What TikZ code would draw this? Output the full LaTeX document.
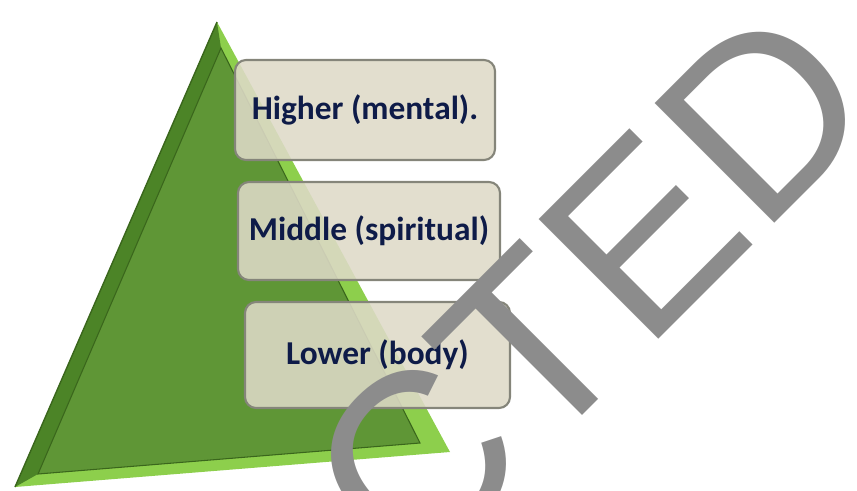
\documentclass[tikz,border=0pt]{standalone}
\usepackage{fontspec}
\setmainfont{Carlito}
\newfontfamily\wmfont{Liberation Sans}
\definecolor{grnlight}{HTML}{8DCF4C}
\definecolor{grndark}{HTML}{4C8427}
\definecolor{grnmain}{HTML}{5F9636}
\definecolor{grnedge}{HTML}{3A661C}
\definecolor{boxfill}{HTML}{DEDAC7}
\definecolor{boxedge}{HTML}{85857A}
\definecolor{navy}{HTML}{0E1B48}
\definecolor{wmgray}{HTML}{8C8C8C}
\begin{document}
\begin{tikzpicture}[
	level/.style={draw=boxedge, line width=1.2pt, fill=boxfill, fill opacity=0.88, text opacity=1,
		rounded corners=0.22cm, minimum width=5.2cm, minimum height=2cm,
		font=\fontsize{19}{21}\selectfont\bfseries, text=navy},
	wmark/.style={font=\wmfont\fontsize{140}{140}\selectfont, text=wmgray, rotate=45,
		anchor=base west, inner sep=0pt}]
	\useasboundingbox (0,0) rectangle (17.14,9.8);
	\clip (0,0) rectangle (17.14,9.8);
	% pyramid with bevel
	\fill[grnlight] (4.34,9.36) -- (0.30,0.06) -- (9.00,0.76) -- cycle;
	\fill[grndark] (4.34,9.36) -- (0.30,0.06) -- (0.76,0.32) -- (4.42,8.84) -- cycle;
	\fill[grnmain, draw=grnedge, line width=0.6pt] (4.42,8.84) -- (0.76,0.32) -- (8.40,0.94) -- cycle;
	\draw[grnedge, line width=0.8pt] (4.34,9.36) -- (0.30,0.06);
	% levels
	\node[level] (higher) at (7.30,7.60) {Higher (mental).};
	\node[level, minimum width=5.24cm, minimum height=1.96cm] (middle) at (7.38,5.18) {Middle (spiritual)};
	\node[level, minimum width=5.3cm, minimum height=2.12cm] (lower) at (7.55,2.70) {Lower (body)};
	% watermark
	\node[wmark] (stamp) at (8.24,-1.92) {CTED};
\end{tikzpicture}
\end{document}
